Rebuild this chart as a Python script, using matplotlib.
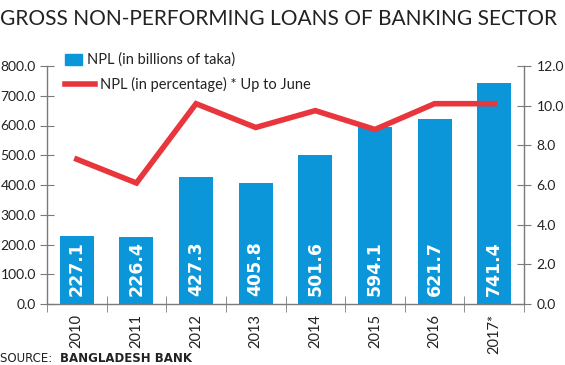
import matplotlib.pyplot as plt
import matplotlib.ticker as ticker
import numpy as np

# Data
annees = ["2010", "2011", "2012", "2013", "2014", "2015", "2016", "2017*"]
npl_milliards = [227.1, 226.4, 427.3, 405.8, 501.6, 594.1, 621.7, 741.4]
npl_pourcentage = [7.3, 6.1, 10.1, 8.9, 9.75, 8.8, 10.1, 10.1]

BLEU = "#0a96d8"
ROUGE = "#e8363c"
GRIS = "#7a7a7a"
POLICE = ["Lato", "DejaVu Sans"]


def definir_graphique():
    """Crée la figure et les deux axes"""
    fig = plt.figure(figsize=(5.65, 3.65), dpi=100)
    ax = fig.add_axes([47 / 565, 61 / 365, 477 / 565, 238 / 365])
    ax2 = ax.twinx()

    for axe in (ax, ax2):
        for cote in ("top", "right", "left", "bottom"):
            axe.spines[cote].set_visible(False)

    ax.spines["left"].set_visible(True)
    ax.spines["bottom"].set_visible(True)
    ax2.spines["right"].set_visible(True)
    for sp in (ax.spines["left"], ax.spines["bottom"], ax2.spines["right"]):
        sp.set_color(GRIS)
        sp.set_linewidth(1.0)

    ax.set_ylim(0, 800)
    ax.yaxis.set_major_locator(ticker.MultipleLocator(100))
    ax.yaxis.set_major_formatter(ticker.StrMethodFormatter("{x:.1f}"))
    ax2.set_ylim(0, 12)
    ax2.yaxis.set_major_locator(ticker.MultipleLocator(2))
    ax2.yaxis.set_major_formatter(ticker.StrMethodFormatter("{x:.1f}"))

    ax.tick_params(axis="y", direction="inout", length=10, color=GRIS,
                   labelsize=10, labelcolor="#222", pad=3)
    ax2.tick_params(axis="y", direction="inout", length=10, color=GRIS,
                    labelsize=10, labelcolor="#222", pad=4)
    for lab in ax.get_yticklabels() + ax2.get_yticklabels():
        lab.set_family(POLICE)

    return fig, ax, ax2


def modeliser(fig, ax, ax2):
    """Dessine barres, ligne et textes"""
    x = np.arange(len(annees))
    ax.bar(x, npl_milliards, width=0.57, color=BLEU, zorder=2,
           label="NPL (in billions of taka)")
    for xi, v in zip(x, npl_milliards):
        ax.text(xi, 28, f"{v:.1f}", rotation=90, ha="center", va="bottom",
                color="white", fontsize=12.5, fontweight="bold",
                family="DejaVu Sans", zorder=3)

    ax.set_xlim(-0.5, len(annees) - 0.5)
    ax.set_xticks(x)
    ax.set_xticklabels(annees, rotation=90, family=POLICE, fontsize=10.5,
                       color="#222")
    ax.set_xticks(np.arange(len(annees) + 1) - 0.5, minor=True)
    ax.tick_params(axis="x", which="major", length=0, pad=7)
    ax.tick_params(axis="x", which="minor", direction="inout", length=12,
                   color=GRIS)

    ax2.plot(x, npl_pourcentage, color=ROUGE, linewidth=4, zorder=4,
             solid_joinstyle="miter", label="NPL (in percentage) * Up to June")
    ax2.set_zorder(ax.get_zorder() + 1)

    # Légende faite à la main
    fig.patches.append(plt.Rectangle((65 / 565, 1 - 65 / 365), 17 / 565,
                                     11 / 365, color=BLEU,
                                     transform=fig.transFigure))
    fig.text(87 / 565, 1 - 60 / 365, "NPL (in billions of taka)",
             fontsize=10.5, family=POLICE, va="center", color="#222")
    fig.add_artist(plt.Line2D([65 / 565, 95 / 565], [1 - 84 / 365] * 2,
                              color=ROUGE, linewidth=4,
                              transform=fig.transFigure))
    fig.text(100 / 565, 1 - 84 / 365, "NPL (in percentage) * Up to June",
             fontsize=10.5, family=POLICE, va="center", color="#222")

    # Titre et source
    fig.text(0.0, 1 - 19 / 365, "GROSS NON-PERFORMING LOANS OF BANKING SECTOR",
             fontsize=15.0, family=POLICE, va="center", ha="left", color="#222")
    fig.text(0.0, 1 - 359 / 365, "SOURCE: ", fontsize=8.5, va="center",
             family="DejaVu Sans", color="#222")
    fig.text(60 / 565, 1 - 359 / 365, "BANGLADESH BANK", fontsize=8.5,
             va="center", family="DejaVu Sans", fontweight="bold",
             color="#222")


def main():
    fig, ax, ax2 = definir_graphique()
    modeliser(fig, ax, ax2)
    fig.savefig("out.png", dpi=100)


if __name__ == "__main__":
    main()
